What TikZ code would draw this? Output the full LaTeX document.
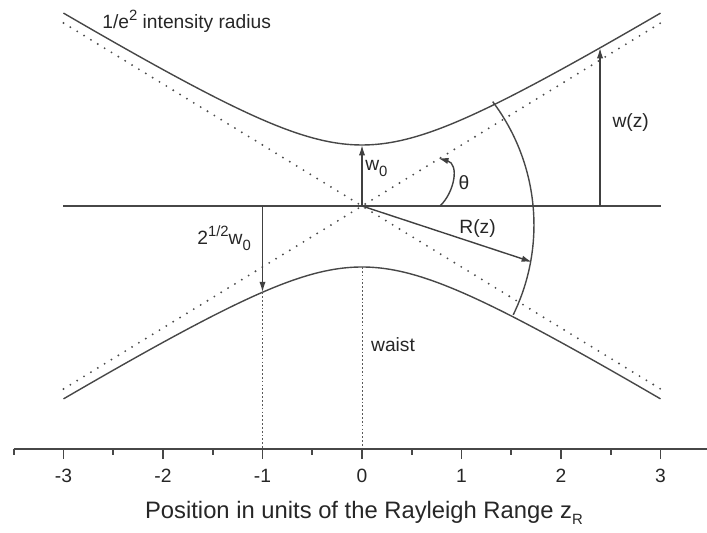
\documentclass[tikz,border=0pt]{standalone}
\usepackage{fontspec}
\setmainfont{Liberation Sans}
\usepackage{tikz}
\usetikzlibrary{arrows.meta}

\newcommand\hisup[1]{\raisebox{0.85ex}{\fontsize{8.5}{8.5}\selectfont #1}}
\newcommand\losub[1]{\raisebox{-0.5ex}{\fontsize{8.5}{8.5}\selectfont #1}}

\begin{document}
\begin{tikzpicture}[x=2cm, y=2cm, >={Latex[length=6pt,width=3.6pt]},
  line join=bevel,
  beam/.style={draw=black!72, line width=0.8pt},
  asym/.style={draw=black!70, line width=1.2pt, line cap=round,
    dash pattern=on 0pt off 4.6pt},
  guide/.style={draw=black!65, line width=0.5pt,
    dash pattern=on 1pt off 1.2pt},
  dimline/.style={->, draw=black!75, line width=0.8pt},
  lbl/.style={text=black!85, inner sep=0pt,
    font=\fontsize{11}{13}\selectfont}]
\useasboundingbox (-3.638,-3.286) rectangle (3.467,2.070);
%%
\coordinate (origin) at (0,0);
\coordinate (axis_left) at (-3,0);
\coordinate (axis_right) at (3,0);
\coordinate (w0_tip) at (0,0.613);
\coordinate (sq_foot) at (-1,0);
\coordinate (sq_tip) at (-1,-0.867);
\coordinate (wz_foot) at (2.392,0);
\coordinate (wz_tip) at (2.392,1.589);
\coordinate (rz_tip) at (1.709,-0.563);
\coordinate (th_start) at (0.784,0);
\coordinate (th_end) at (0.764,0.482);
\coordinate (waist_low) at (0,-0.613);
\coordinate (scale_m1) at (-1,-2.442);
\coordinate (scale_0) at (0,-2.442);

%% beam envelope and asymptotes
\draw [beam] plot [domain=-3:3, samples=61, smooth]
  (\x, {0.613*sqrt(1+\x*\x)});
\draw [beam] plot [domain=-3:3, samples=61, smooth]
  (\x, {-0.613*sqrt(1+\x*\x)});
\draw [asym] (-3,1.839) -- (3,-1.839);
\draw [asym] (-3,-1.839) -- (3,1.839);
\draw [beam] (axis_left) -- (axis_right);

%% wavefront
\draw [beam] (-0.332,-0.191) ++(-26:2.06) arc (-26:37:2.06);

%% dimensions
\draw [dimline] (origin) -- (w0_tip);
\draw [dimline] (sq_foot) -- (sq_tip);
\draw [dimline] (wz_foot) -- (wz_tip);
\draw [dimline] (origin) -- (rz_tip);
\draw [dimline]
  (th_start) .. controls (0.93,0.14) and (0.98,0.42)
  .. (th_end);

\draw [guide] (sq_tip) -- (scale_m1);
\draw [guide] (waist_low) -- (scale_0);

%% labels
\node (lbl_intensity) at (-2.613,1.779) [lbl,anchor=base west]
  {1/e\hisup{2} intensity radius};
\node (lbl_w0) at (0.03,0.352) [lbl,anchor=base west] {w\losub{0}};
\node (lbl_theta) at (1.025,0.231) [lbl] {θ};
\node (lbl_rz) at (1.161,-0.226) [lbl] {R(z)};
\node (lbl_wz) at (2.70,0.834) [lbl] {w(z)};
\node (lbl_sq) at (-1.658,-0.392) [lbl,anchor=base west]
  {2\hisup{1/2}w\losub{0}};
\node (lbl_waist) at (0.312,-1.397) [lbl] {waist};

%% position scale
\draw [draw=black!72, line width=1.3pt] (-3.5,-2.442) -- (3.6,-2.442);
\foreach \k in {-3,...,3} {
  \draw [draw=black!72, line width=1pt] (\k,-2.442) -- (\k,-2.542);
  \node (tick_\k) at (\k,-2.714) [lbl] {\k};
}
\foreach \h in {-3.5,-2.5,...,2.5}
  \draw [draw=black!72, line width=1pt] (\h,-2.442) -- (\h,-2.502);
\node (lbl_position) at (0.02,-3.085) [lbl,font=\fontsize{13.6}{15}\selectfont]
  {Position in units of the Rayleigh Range z\losub{R}};
\end{tikzpicture}
\end{document}
